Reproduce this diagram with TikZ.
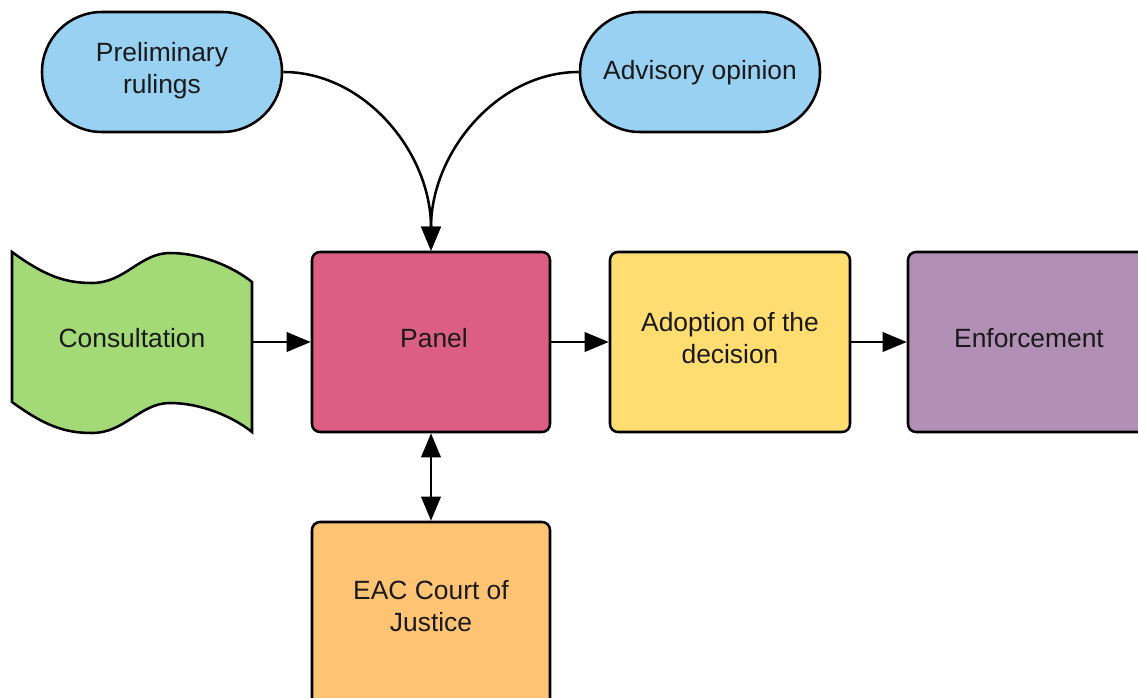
\documentclass[tikz,border=0pt]{standalone}
\usepackage{fontspec}
\setmainfont{Liberation Sans}
\usetikzlibrary{arrows.meta}
\definecolor{cblue}{HTML}{99D1F3}
\definecolor{cgreen}{HTML}{A3D977}
\definecolor{cpink}{HTML}{DC5E84}
\definecolor{cyellow}{HTML}{FFDD71}
\definecolor{cpurple}{HTML}{B28FB5}
\definecolor{corange}{HTML}{FFC374}
\definecolor{ctext}{HTML}{1A1A1A}
\begin{document}
\begin{tikzpicture}[x=0.75pt,y=-0.75pt,line width=1.9pt,
  lbl/.style={align=center,text=ctext,font=\fontsize{19.8}{24}\selectfont,inner sep=0pt},
  box/.style={draw=black,rounded corners=6pt,minimum width=180pt,minimum height=135pt},
  pill/.style={draw=black,fill=cblue,rounded corners=44.9pt,minimum width=180pt,minimum height=90pt},
  tip/.tip={Triangle[length=18pt,width=14.5pt]},
  arr/.style={-tip},
  darr/.style={tip-tip}]
\useasboundingbox (0,0) rectangle (1138,698);
\clip (0,0) rectangle (1138,698);
% shapes
\node[pill] (prelim) at (162,72) {};
\node[pill] (advisory) at (700,72) {};
\draw[fill=cgreen] (12,252) .. controls (45,276) and (65,283) .. (92,283)
  .. controls (125,283) and (140,253) .. (170,253)
  .. controls (200,253) and (232,266) .. (252,282) -- (252,432)
  .. controls (232,416) and (200,403) .. (170,403)
  .. controls (140,403) and (125,433) .. (92,433)
  .. controls (65,433) and (45,426) .. (12,402) -- cycle;
\node[minimum width=180pt,minimum height=135pt,inner sep=0pt] (cons) at (132,342) {};
\node[box,fill=cpink,minimum width=178.5pt] (panel) at (431,342) {};
\node[box,fill=cyellow] (adopt) at (730,342) {};
\node[box,fill=cpurple,minimum width=181.5pt] (enforce) at (1029,342) {};
\node[box,fill=corange,minimum width=178.5pt,minimum height=142.5pt] (eac) at (431,617) {};
% texts
\node[lbl] (prelimtext) at (162,71) {Preliminary\\rulings};
\node[lbl] (advisorytext) at (700,73) {Advisory opinion};
\node[lbl] (constext) at (132,338) {Consultation};
\node[lbl] (paneltext) at (434,338) {Panel};
\node[lbl] (adopttext) at (730,338) {Adoption of the\\decision};
\node[lbl] (enforcetext) at (1029,338) {Enforcement};
\node[lbl] (eactext) at (431,606) {EAC Court of\\Justice};
% connectors
\draw[arr] (prelim.east) .. controls (365,72) and (431,153) .. (panel.north);
\draw[arr] (advisory.west) .. controls (497,72) and (431,153) .. (panel.north);
\draw[arr] (cons.east) -- (panel.west);
\draw[arr] (panel.east) -- (adopt.west);
\draw[arr] (adopt.east) -- (enforce.west);
\draw[darr] (panel.south) -- (eac.north);
\end{tikzpicture}
\end{document}
